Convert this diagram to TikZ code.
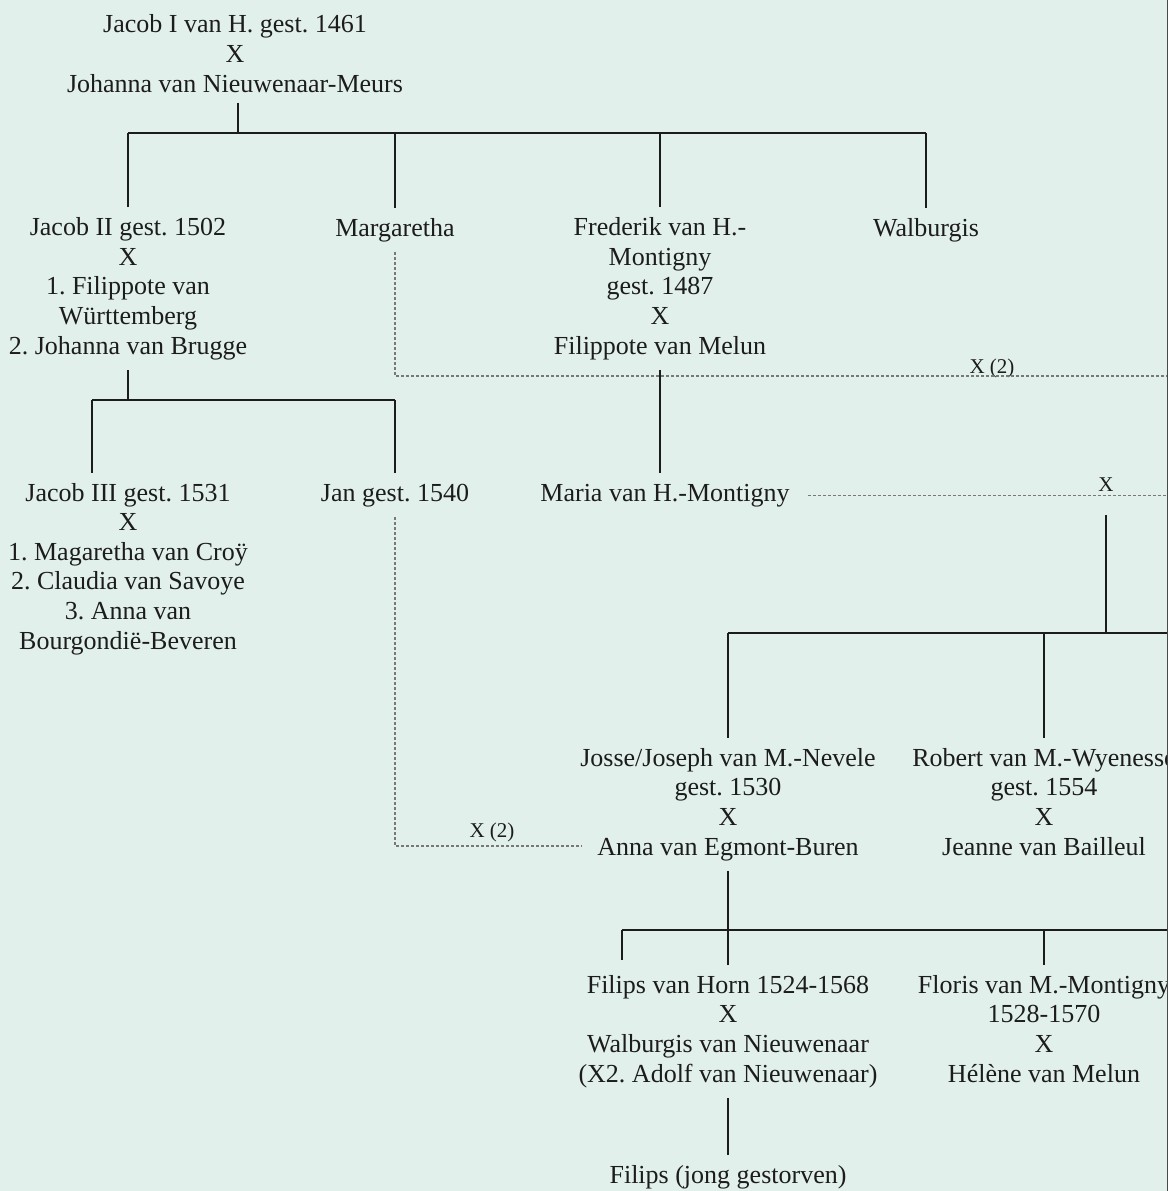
\documentclass[tikz,border=0pt]{standalone}
\usepackage{fontspec}
\setmainfont{Liberation Serif}
\frenchspacing
\definecolor{paper}{RGB}{226,240,236}
\definecolor{ink}{RGB}{28,28,28}
\definecolor{linkgray}{RGB}{120,120,120}
\begin{document}
\begin{tikzpicture}[x=0.5pt,y=-0.5pt,
    person/.style={align=center,anchor=base,inner sep=5pt,text=ink,
      font=\fontsize{13}{14.8}\selectfont},
    marr/.style={anchor=base,inner sep=1pt,text=ink,font=\fontsize{10.5}{12}\selectfont},
    tree/.style={draw=ink,line width=0.75pt},
    link/.style={draw=linkgray,line width=0.6pt,dash pattern=on 1.5pt off 1pt}]
  \useasboundingbox (0,0) rectangle (1168,1191);
  \fill[paper] (0,0) rectangle (1168,1191);
  \clip (0,0) rectangle (1168,1191);

  % generations (placed at the baseline of the last line)
  \node[person] (J1) at (235,92) {Jacob I van H. gest. 1461\\X\\Johanna van Nieuwenaar-Meurs};

  \node[person] (J2) at (128,354) {Jacob II gest. 1502\\X\\1. Filippote van\\W\"urttemberg\\2. Johanna van Brugge};
  \node[person] (Ma) at (395,236) {Margaretha};
  \node[person] (Fr) at (660,354) {Frederik van H.-\\Montigny\\gest. 1487\\X\\Filippote van Melun};
  \node[person] (Wa) at (926,236) {Walburgis};

  \node[person] (J3) at (128,649) {Jacob III gest. 1531\\X\\1. Magaretha van Cro\"y\\2. Claudia van Savoye\\3. Anna van\\Bourgondi\"e-Beveren};
  \node[person] (Ja) at (395,501) {Jan gest. 1540};
  \node[person] (Mr) at (665,501) {Maria van H.-Montigny};

  \node[person] (Jo) at (728,855) {Josse/Joseph van M.-Nevele\\gest. 1530\\X\\Anna van Egmont-Buren};
  \node[person] (Ro) at (1044,855) {Robert van M.-Wyenesse\\gest. 1554\\X\\Jeanne van Bailleul};

  \node[person] (Fi) at (728,1082) {Filips van Horn 1524-1568\\X\\Walburgis van Nieuwenaar\\(X2. Adolf van Nieuwenaar)};
  \node[person] (Fl) at (1044,1082) {Floris van M.-Montigny\\1528-1570\\X\\H\'el\`ene van Melun};

  \node[person] (Fj) at (728,1183) {Filips (jong gestorven)};

  % marriage marks
  \node[marr] (xa) at (992,373) {X (2)};
  \node[marr] (xb) at (1106,491) {X};
  \node[marr] (xc) at (492,837) {X (2)};

  % bars
  \coordinate (b1l) at (128,133);  \coordinate (b1r) at (926,133);
  \coordinate (b2l) at (92,400);   \coordinate (b2r) at (395,400);
  \coordinate (b3l) at (728,633);  \coordinate (b3r) at (1168,633);
  \coordinate (b4l) at (622,930);  \coordinate (b4r) at (1168,930);
  \coordinate (e1) at (1168,376);
  \coordinate (e2) at (1168,497);
  \coordinate (m1) at (1106,515);
  \coordinate (an) at (582,846);
  \coordinate (k4) at (622,960);

  \draw[tree] (J1.south -| 238,0) -- (238,133);
  \draw[tree] (b1l) -- (b1r);
  \foreach \n in {J2,Ma,Fr,Wa}
    \draw[tree] (\n.north) -- (\n.north |- b1l);

  \draw[tree] (J2.south) -- (J2.south |- b2l);
  \draw[tree] (b2l) -- (b2r);
  \draw[tree] (b2l) -- (b2l |- J3.north);
  \draw[tree] (b2r) -- (Ja.north);

  \draw[tree] (Fr.south) -- (Fr.south |- Mr.north);

  \draw[tree] (m1) -- (m1 |- b3l);
  \draw[tree] (b3l) -- (b3r);
  \draw[tree] (b3l) -- (Jo.north);
  \draw[tree] (Ro.north |- b3l) -- (Ro.north);

  \draw[tree] (Jo.south) -- (Jo.south |- b4l);
  \draw[tree] (b4l) -- (b4r);
  \draw[tree] (b4l) -- (k4);
  \draw[tree] (Fi.north |- b4l) -- (Fi.north);
  \draw[tree] (Fl.north |- b4l) -- (Fl.north);

  \draw[tree] (Fi.south) -- (Fj.north);

  % second marriages
  \draw[link] (Ma.south) |- (e1);
  \draw[link] ([xshift=4pt]Mr.east) -- (Mr.east -| e2);
  \draw[link] (Ja.south) |- (an);

  \draw[draw=ink!80,line width=1pt] (1167.5,0) -- (1167.5,1191);
\end{tikzpicture}
\end{document}
